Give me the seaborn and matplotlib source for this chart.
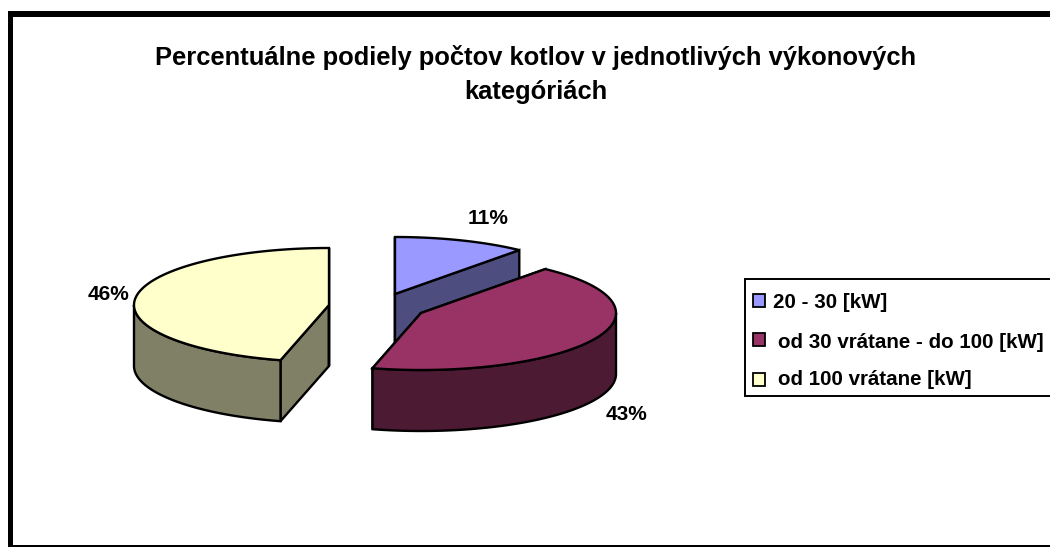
import numpy as np
import seaborn as sns
import matplotlib
matplotlib.use("Agg")
import matplotlib.pyplot as plt
from matplotlib.patches import Rectangle, Polygon

# Data
shares = [11, 43, 46]
categories = ["20 - 30 [kW]", "od 30 vrátane - do 100 [kW]", "od 100 vrátane [kW]"]
top_colors = ["#9999FF", "#993366", "#FFFFCC"]
title_lines = ["Percentuálne podiely počtov kotlov v jednotlivých výkonových", "kategóriách"]

# Pie layout in pixels (each slice has its own exploded centre)
centers = [(395, 294), (421, 313), (329, 305)]
pct_pos = [(488, 219), (627, 415), (108, 295)]
RX, RY, DEPTH = 195, 57, 61
EDGE = 1.7

sns.set_theme(style="white")
plt.rcParams["font.family"] = ["Liberation Sans", "DejaVu Sans"]
side_colors = sns.color_palette([tuple(v * 0.5 for v in matplotlib.colors.to_rgb(c)) for c in top_colors])


def rim(cx, cy, a0, a1, n=120):
    # angles in degrees, clockwise from 12 o'clock
    t = np.radians(np.linspace(a0, a1, n))
    return np.column_stack([cx + RX * np.sin(t), cy - RY * np.cos(t)])


def draw_slice(ax, center, a0, a1, top, side):
    cx, cy = center
    apex = np.array([cx, cy])
    drop = np.array([0, DEPTH])
    # cut faces
    for a in (a0, a1):
        p = rim(cx, cy, a, a, 1)[0]
        ax.add_patch(Polygon([apex, p, p + drop, apex + drop], fc=side, ec="black", lw=EDGE))
    # outer wall, only the part facing the viewer
    lo, hi = max(a0, 90), min(a1, 270)
    if hi > lo:
        arc = rim(cx, cy, lo, hi)
        ax.add_patch(Polygon(np.vstack([arc, (arc + drop)[::-1]]), fc=side, ec="black", lw=EDGE))
    # top face
    ax.add_patch(Polygon(np.vstack([apex, rim(cx, cy, a0, a1)]), fc=top, ec="black", lw=EDGE))


fig = plt.figure(figsize=(10.5, 5.47), dpi=100, facecolor="white")
ax = fig.add_axes([0, 0, 1, 1])
ax.set_xlim(0, 1050)
ax.set_ylim(547, 0)
ax.axis("off")

# chart frame
ax.add_patch(Rectangle((8, 11), 1042, 6, fc="black", ec="none"))
ax.add_patch(Rectangle((8, 11), 5, 536, fc="black", ec="none"))
ax.add_patch(Rectangle((8, 545), 1042, 2, fc="black", ec="none"))

ax.text(536, 57.5, title_lines[0], ha="center", va="center", fontsize=18.4, fontweight="bold", color="black")
ax.text(536, 92.5, title_lines[1], ha="center", va="center", fontsize=18.4, fontweight="bold", color="black")

edges = np.cumsum([0] + shares) / sum(shares) * 360
for i in [0, 2, 1]:  # back to front
    draw_slice(ax, centers[i], edges[i], edges[i + 1], top_colors[i], side_colors[i])
    ax.text(*pct_pos[i], f"{shares[i]}%", ha="center", va="center", fontsize=15, fontweight="bold", color="black")

# legend box runs off the right edge like the original
ax.add_patch(Rectangle((745, 279), 320, 117, fc="white", ec="black", lw=1.4))
marker_y = [300.5, 339, 379]
legend_y = [303, 342.5, 379.5]
text_x = [773, 778, 778]
for my, y, x, c, label in zip(marker_y, legend_y, text_x, top_colors, categories):
    ax.add_patch(Rectangle((753, my - 6.5), 12, 13, fc=c, ec="black", lw=1.3))
    ax.text(x, y, label, ha="left", va="center", fontsize=14.8, fontweight="bold", color="black")

fig.savefig("out.png", dpi=100, facecolor="white")
plt.close(fig)
